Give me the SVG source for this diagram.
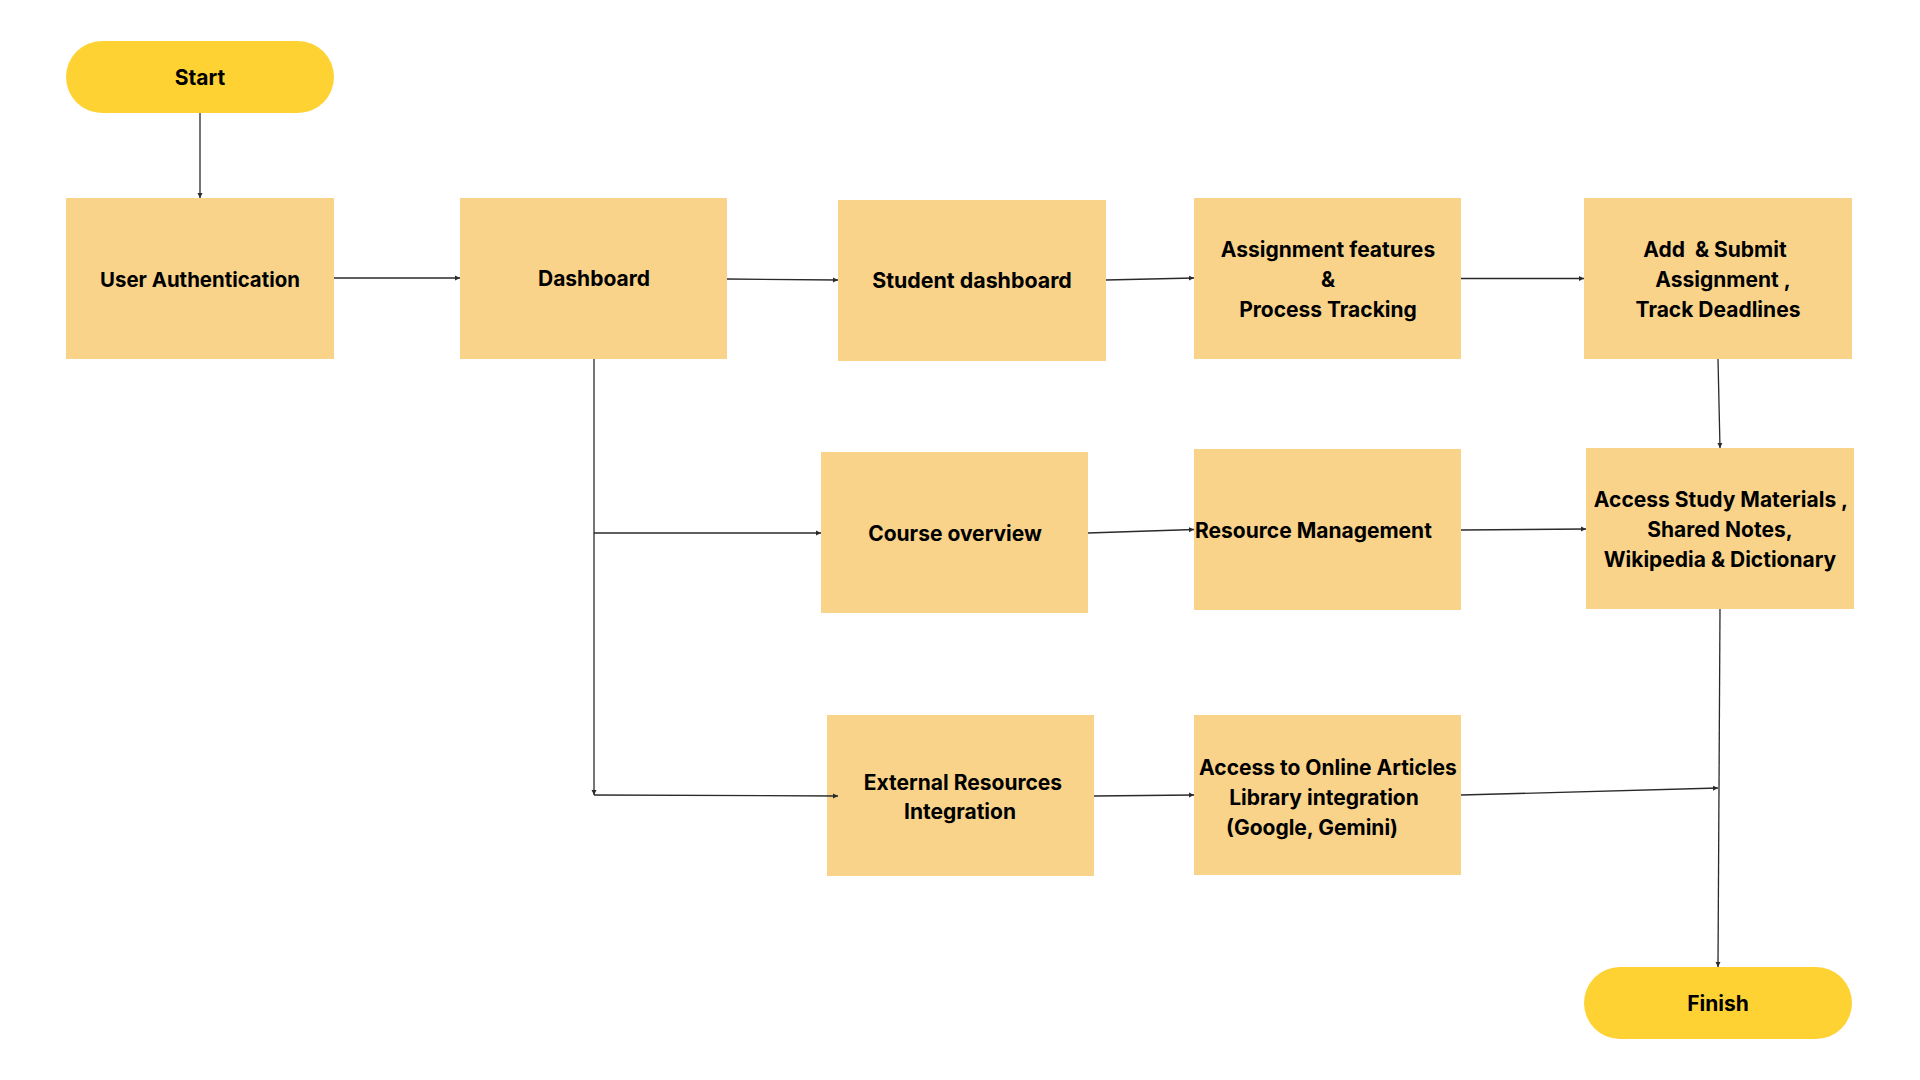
<svg xmlns="http://www.w3.org/2000/svg" width="1920" height="1080" viewBox="0 0 1920 1080">
<style>
.box{fill:#F9D38A}
.pill{fill:#FED233}
.t{font-family:Inter,Lato,"Liberation Sans",sans-serif;font-weight:bold;font-size:21px;fill:#000;text-anchor:middle;dominant-baseline:central;white-space:pre}
.c{fill:none;stroke:#2a2a2a;stroke-width:1.3}
</style>
<defs>
<marker id="ah" markerWidth="6" markerHeight="6" refX="5" refY="3" orient="auto" markerUnits="userSpaceOnUse">
<path d="M0,0.5 L5,3 L0,5.5 Z" fill="#2a2a2a"/>
</marker>
</defs>
<rect width="1920" height="1080" fill="#fff"/>
<g id="start">
<rect class="pill" x="66" y="41" width="268" height="72" rx="36"/>
<text class="t" x="200" y="77">Start</text>
</g>
<g id="user-auth">
<rect class="box" x="66" y="198" width="268" height="161"/>
<text class="t" x="200" y="279" style="font-size:20.4px">User Authentication</text>
</g>
<g id="dashboard">
<rect class="box" x="460" y="198" width="267" height="161"/>
<text class="t" x="594" y="278">Dashboard</text>
</g>
<g id="student-dashboard">
<rect class="box" x="838" y="200" width="268" height="161"/>
<text class="t" x="972" y="280" style="font-size:21.4px">Student dashboard</text>
</g>
<g id="assignment-features">
<rect class="box" x="1194" y="198" width="267" height="161"/>
<text class="t" x="1328" y="249">Assignment features</text>
<text class="t" x="1328" y="279">&amp;</text>
<text class="t" x="1328" y="309">Process Tracking</text>
</g>
<g id="add-submit">
<rect class="box" x="1584" y="198" width="268" height="161"/>
<text class="t" x="1715" y="249">Add  &amp; Submit</text>
<text class="t" x="1723" y="279">Assignment ,</text>
<text class="t" x="1718" y="309">Track Deadlines</text>
</g>
<g id="course-overview">
<rect class="box" x="821" y="452" width="267" height="161"/>
<text class="t" x="955" y="533">Course overview</text>
</g>
<g id="resource-management">
<rect class="box" x="1194" y="449" width="267" height="161"/>
<text class="t" x="1195" y="530" style="text-anchor:start">Resource Management</text>
</g>
<g id="access-study">
<rect class="box" x="1586" y="448" width="268" height="161"/>
<text class="t" x="1721" y="499">Access Study Materials ,</text>
<text class="t" x="1720" y="529">Shared Notes,</text>
<text class="t" x="1720" y="559">Wikipedia &amp; Dictionary</text>
</g>
<g id="external-resources">
<rect class="box" x="827" y="715" width="267" height="161"/>
<text class="t" x="963" y="782">External Resources</text>
<text class="t" x="960" y="811">Integration</text>
</g>
<g id="online-articles">
<rect class="box" x="1194" y="715" width="267" height="160"/>
<text class="t" x="1328" y="767">Access to Online Articles</text>
<text class="t" x="1324" y="797">Library integration</text>
<text class="t" x="1312" y="827">(Google, Gemini)</text>
</g>
<g id="finish">
<rect class="pill" x="1584" y="967" width="268" height="72" rx="36"/>
<text class="t" x="1718" y="1003">Finish</text>
</g>
<g id="connectors">
<line class="c" x1="200" y1="113" x2="200" y2="198" marker-end="url(#ah)"/>
<line class="c" x1="334" y1="278" x2="460" y2="278" marker-end="url(#ah)"/>
<line class="c" x1="727" y1="279" x2="838" y2="280" marker-end="url(#ah)"/>
<line class="c" x1="1106" y1="280" x2="1194" y2="278" marker-end="url(#ah)"/>
<line class="c" x1="1461" y1="278.5" x2="1584" y2="278.5" marker-end="url(#ah)"/>
<line class="c" x1="1718" y1="359" x2="1720" y2="448" marker-end="url(#ah)"/>
<line class="c" x1="594" y1="359" x2="594" y2="795" marker-end="url(#ah)"/>
<line class="c" x1="594" y1="533" x2="821" y2="533" marker-end="url(#ah)"/>
<line class="c" x1="594" y1="795" x2="838" y2="796" marker-end="url(#ah)"/>
<line class="c" x1="1088" y1="533" x2="1194" y2="529.5" marker-end="url(#ah)"/>
<line class="c" x1="1461" y1="530" x2="1586" y2="529" marker-end="url(#ah)"/>
<line class="c" x1="1094" y1="796" x2="1194" y2="795" marker-end="url(#ah)"/>
<line class="c" x1="1461" y1="795" x2="1718" y2="788" marker-end="url(#ah)"/>
<line class="c" x1="1720" y1="609" x2="1718" y2="967" marker-end="url(#ah)"/>
</g>
</svg>
